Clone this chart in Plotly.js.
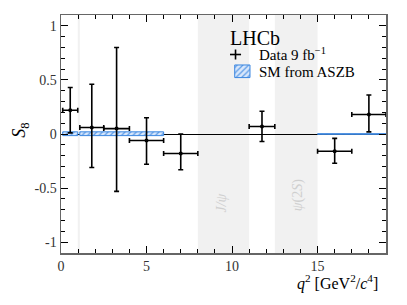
<!DOCTYPE html>
<html><head><meta charset="utf-8">
<script src="https://cdn.plot.ly/plotly-3.0.1.min.js"></script>
<style>html,body{margin:0;padding:0;background:#fff}#chart{width:407px;height:305px}</style>
</head><body><div id="chart"></div>
<script>
// Data: LHCb S8 measurement bins
const qlo = [0.1, 1.1, 2.5, 4.0, 6.0, 11.0, 15.0, 17.0];
const qhi = [0.98, 2.5, 4.0, 6.0, 8.0, 12.5, 17.0, 19.0];
const S8 = [0.22, 0.06, 0.05, -0.06, -0.18, 0.07, -0.16, 0.18];
const errUp = [0.21, 0.40, 0.75, 0.21, 0.18, 0.14, 0.12, 0.18];
const errDn = [0.21, 0.37, 0.58, 0.22, 0.15, 0.14, 0.11, 0.16];
// SM prediction (ASZB)
const smLo = [0.1, 1.1, 15.0];
const smHi = [0.98, 6.0, 19.0];
const smLow = [-0.015, -0.015, -0.003];
const smHigh = [0.02, 0.02, 0.003];
// vetoed regions
const vetoLo = [0.98, 8.0, 12.5];
const vetoHi = [1.1, 11.0, 15.0];
const yTickVals = [-1, -0.5, 0, 0.5, 1];
const yTickText = ['-1', '-0.5', '0', '0.5', '1'];
const xTickVals = [0, 5, 10, 15];
const xTickText = ['0', '5', '10', '15'];

const serif = 'Liberation Serif, DejaVu Serif, serif';
const xc = qlo.map((l, i) => (l + qhi[i]) / 2);
const xe = qlo.map((l, i) => (qhi[i] - l) / 2);

const smTrace = {
  type: 'bar',
  x: smLo.map((l, i) => (l + smHi[i]) / 2),
  width: smLo.map((l, i) => smHi[i] - l),
  base: smLow,
  y: smLow.map((l, i) => smHigh[i] - l),
  marker: {
    color: '#c6dcf7',
    line: {color: '#3a86e0', width: 1},
    pattern: {shape: '/', fgcolor: '#5a9ae6', bgcolor: '#d8e7fb', size: 4, solidity: 0.3}
  },
  hoverinfo: 'skip', showlegend: false
};

const dataTrace = {
  type: 'scatter', mode: 'markers',
  x: xc, y: S8,
  marker: {color: '#000', size: 4},
  error_x: {type: 'data', array: xe, color: '#000', thickness: 1.6, width: 2.5},
  error_y: {type: 'data', symmetric: false, array: errUp, arrayminus: errDn, color: '#000', thickness: 1.6, width: 2.5},
  showlegend: false
};

// legend swatch for SM (hatched) on overlay axes
const legSM = {
  type: 'scatter', mode: 'lines', xaxis: 'x2', yaxis: 'y2',
  x: [0.5345, 0.5815, 0.5815, 0.5345, 0.5345],
  y: [0.737, 0.737, 0.790, 0.790, 0.737],
  fill: 'toself', fillcolor: '#d8e7fb',
  fillpattern: {shape: '/', fgcolor: '#5a9ae6', bgcolor: '#d8e7fb', size: 4, solidity: 0.3},
  line: {color: '#3a86e0', width: 1}, showlegend: false, hoverinfo: 'skip'
};

const shapes = vetoLo.map((l, i) => ({
  type: 'rect', xref: 'x', yref: 'paper', x0: l, x1: vetoHi[i], y0: 0, y1: 1,
  fillcolor: '#f1f1f1', line: {width: 0}, layer: 'below'
}));
// legend cross for data
shapes.push({type: 'line', xref: 'paper', yref: 'paper', x0: 0.52, x1: 0.554, y0: 0.834, y1: 0.834, line: {color: '#000', width: 1.6}});
shapes.push({type: 'line', xref: 'paper', yref: 'paper', x0: 0.537, x1: 0.537, y0: 0.813, y1: 0.855, line: {color: '#000', width: 1.6}});

const annotations = [
  {text: 'LHCb', xref: 'paper', yref: 'paper', x: 0.513, y: 0.905, xanchor: 'left', yanchor: 'middle', showarrow: false, font: {family: serif, size: 20, color: '#000'}},
  {text: 'Data 9 fb<sup>−1</sup>', xref: 'paper', yref: 'paper', x: 0.603, y: 0.836, xanchor: 'left', yanchor: 'middle', showarrow: false, font: {family: serif, size: 15, color: '#000'}},
  {text: 'SM from ASZB', xref: 'paper', yref: 'paper', x: 0.603, y: 0.762, xanchor: 'left', yanchor: 'middle', showarrow: false, font: {family: serif, size: 15, color: '#000'}},
  {text: '<i>J/ψ</i>', xref: 'x', yref: 'y', x: 9.37, y: -0.64, textangle: -90, showarrow: false, font: {family: serif, size: 14, color: '#cfcfcf'}},
  {text: '<i>ψ</i>(2<i>S</i>)', xref: 'x', yref: 'y', x: 13.83, y: -0.57, textangle: -90, showarrow: false, font: {family: serif, size: 14, color: '#cfcfcf'}},
  {text: '<i>S</i><sub>8</sub>', xref: 'paper', yref: 'paper', x: -0.125, y: 0.515, textangle: -90, xanchor: 'center', yanchor: 'middle', showarrow: false, font: {family: serif, size: 18, color: '#000'}},
  {text: '<i>q</i><sup>2</sup> [GeV<sup>2</sup>/<i>c</i><sup>4</sup>]', xref: 'paper', yref: 'paper', x: 0.982, y: -0.125, xanchor: 'right', yanchor: 'middle', showarrow: false, font: {family: serif, size: 16, color: '#000'}}
];

const layout = {
  width: 407, height: 305,
  margin: {l: 61, r: 21, t: 15, b: 52},
  paper_bgcolor: '#fff', plot_bgcolor: 'rgba(0,0,0,0)',
  font: {family: serif, size: 13, color: '#333'},
  showlegend: false,
  barmode: 'overlay',
  xaxis: {
    range: [0, 19], showgrid: false, zeroline: false,
    showline: true, linecolor: '#666', linewidth: 1.5, mirror: 'allticks',
    ticks: 'inside', ticklen: 7, tickwidth: 1, tickcolor: '#000',
    tickvals: xTickVals, ticktext: xTickText,
    tickfont: {family: serif, size: 14, color: '#333'},
    minor: {dtick: 1, ticks: 'inside', ticklen: 4, tickcolor: '#000', showgrid: false}
  },
  yaxis: {
    range: [-1.1, 1.1], showgrid: false,
    zeroline: true, zerolinecolor: '#000', zerolinewidth: 1,
    showline: true, linecolor: '#666', linewidth: 1.5, mirror: 'allticks',
    ticks: 'inside', ticklen: 7, tickwidth: 1, tickcolor: '#000',
    tickvals: yTickVals, ticktext: yTickText,
    tickfont: {family: serif, size: 14, color: '#333'},
    minor: {dtick: 0.1, ticks: 'inside', ticklen: 4, tickcolor: '#000', showgrid: false}
  },
  xaxis2: {overlaying: 'x', range: [0, 1], visible: false, fixedrange: true},
  yaxis2: {overlaying: 'y', range: [0, 1], visible: false, fixedrange: true},
  shapes: shapes,
  annotations: annotations
};

Plotly.newPlot('chart', [smTrace, dataTrace, legSM], layout, {staticPlot: true, displayModeBar: false});
</script></body></html>
